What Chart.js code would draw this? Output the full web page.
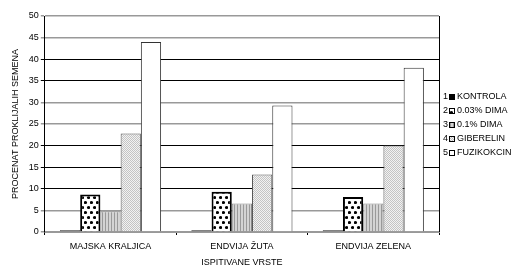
<!DOCTYPE html>
<html>
<head>
<meta charset="utf-8">
<script src="https://cdn.jsdelivr.net/npm/chart.js@4"></script>
<style>
  html, body { margin: 0; padding: 0; background: #fff; }
  #wrap { width: 511px; height: 267px; position: relative; }
</style>
</head>
<body>
<div id="wrap"><canvas id="chart" width="511" height="267"></canvas></div>
<script>
// data
const categories = ["MAJSKA KRALJICA", "ENDVIJA ŽUTA", "ENDVIJA ZELENA"];
const seriesNames = ["KONTROLA", "0.03% DIMA", "0.1% DIMA", "GIBERELIN", "FUZIKOKCIN"];
const kontrola = [0.4, 0.4, 0.4];
const dima003 = [8.7, 9.3, 8.1];
const dima01 = [4.8, 6.6, 6.6];
const giberelin = [22.8, 13.3, 20.0];
const fuzikokcin = [44.0, 29.3, 38.0];
const yTicks = [0, 5, 10, 15, 20, 25, 30, 35, 40, 45, 50];

const FONT = "'Liberation Sans', Arial, sans-serif";

function makePattern(w, h, draw) {
  const c = document.createElement("canvas");
  c.width = w; c.height = h;
  const g = c.getContext("2d");
  draw(g);
  return g.createPattern(c, "repeat");
}

const dotsPattern = makePattern(6, 10, g => {
  g.fillStyle = "#fff"; g.fillRect(0, 0, 6, 10);
  g.fillStyle = "#000";
  g.beginPath(); g.arc(1.5, 2.5, 1.6, 0, Math.PI * 2); g.fill();
  g.beginPath(); g.arc(4.5, 7.5, 1.6, 0, Math.PI * 2); g.fill();
});
const stripePattern = makePattern(3, 2, g => {
  g.fillStyle = "#d4d4d4"; g.fillRect(0, 0, 3, 2);
  g.fillStyle = "#9a9a9a"; g.fillRect(0, 0, 1, 2);
});
const ditherPattern = makePattern(2, 2, g => {
  g.fillStyle = "#f2f2f2"; g.fillRect(0, 0, 2, 2);
  g.fillStyle = "#c4c4c4"; g.fillRect(0, 0, 1, 1); g.fillRect(1, 1, 1, 1);
});

const fills = ["#000", dotsPattern, stripePattern, ditherPattern, "#fff"];
const borders = ["#000", "#000", "#888", "#555", "#333"];
const borderW = [1, 2, 1, 1, 1];
const values = [kontrola, dima003, dima01, giberelin, fuzikokcin];

const datasets = seriesNames.map((name, i) => ({
  label: name,
  data: values[i],
  backgroundColor: fills[i],
  borderColor: borders[i],
  borderWidth: borderW[i],
  borderSkipped: "bottom",
  barPercentage: 1,
  categoryPercentage: 0.77
}));

const grayLines = [0, 5, 25, 30, 45, 50];

// legend + right plot border
const extras = {
  id: "extras",
  afterDraw(chart) {
    const ctx = chart.ctx;
    const a = chart.chartArea;
    ctx.save();
    ctx.strokeStyle = "#000";
    ctx.lineWidth = 1;
    ctx.beginPath();
    ctx.moveTo(Math.round(a.right) + 0.5, a.top);
    ctx.lineTo(Math.round(a.right) + 0.5, a.bottom);
    ctx.stroke();

    const x0 = a.right + 4;
    const rowH = 14;
    const midY = (a.top + a.bottom) / 2;
    const startY = midY - rowH * (seriesNames.length - 1) / 2;
    ctx.font = "9px " + FONT;
    ctx.textBaseline = "middle";
    seriesNames.forEach((name, i) => {
      const y = Math.round(startY + i * rowH);
      ctx.fillStyle = "#000";
      ctx.textAlign = "left";
      ctx.fillText(String(i + 1), x0, y + 1);
      ctx.fillStyle = fills[i];
      ctx.fillRect(x0 + 6, y - 2, 6, 6);
      ctx.strokeStyle = "#000";
      ctx.strokeRect(x0 + 6.5, y - 1.5, 5, 5);
      ctx.fillStyle = "#000";
      ctx.fillText(name, x0 + 14, y + 1);
    });
    ctx.restore();
  }
};

new Chart(document.getElementById("chart"), {
  type: "bar",
  data: { labels: categories, datasets: datasets },
  plugins: [extras],
  options: {
    responsive: false,
    animation: false,
    devicePixelRatio: 1,
    layout: { padding: { top: 16, right: 72, left: 8, bottom: 0 } },
    plugins: { legend: { display: false }, tooltip: { enabled: false } },
    scales: {
      x: {
        offset: true,
        grid: { offset: true, drawOnChartArea: false, color: "#000", tickLength: 3 },
        border: { color: "#999", width: 2 },
        ticks: { color: "#000", font: { family: FONT, size: 9, lineHeight: 1 }, padding: 7, maxRotation: 0 },
        title: { display: true, text: "ISPITIVANE VRSTE", color: "#000", font: { family: FONT, size: 9, lineHeight: 1 }, padding: { top: 0, bottom: 0 } }
      },
      y: {
        min: 0,
        max: 50,
        afterBuildTicks: axis => { axis.ticks = yTicks.map(v => ({ value: v })); },
        grid: {
          color: c => grayLines.includes(c.tick.value) ? "#999" : "#000",
          lineWidth: c => grayLines.includes(c.tick.value) ? 1.5 : 1,
          tickLength: 4
        },
        border: { color: "#000", width: 1 },
        ticks: { color: "#000", font: { family: FONT, size: 9 }, padding: 2 },
        title: { display: true, text: "PROCENAT PROKLIJALIH SEMENA", color: "#000", font: { family: FONT, size: 9 }, padding: { top: 2, bottom: 6 } }
      }
    }
  }
});
</script>
</body>
</html>
